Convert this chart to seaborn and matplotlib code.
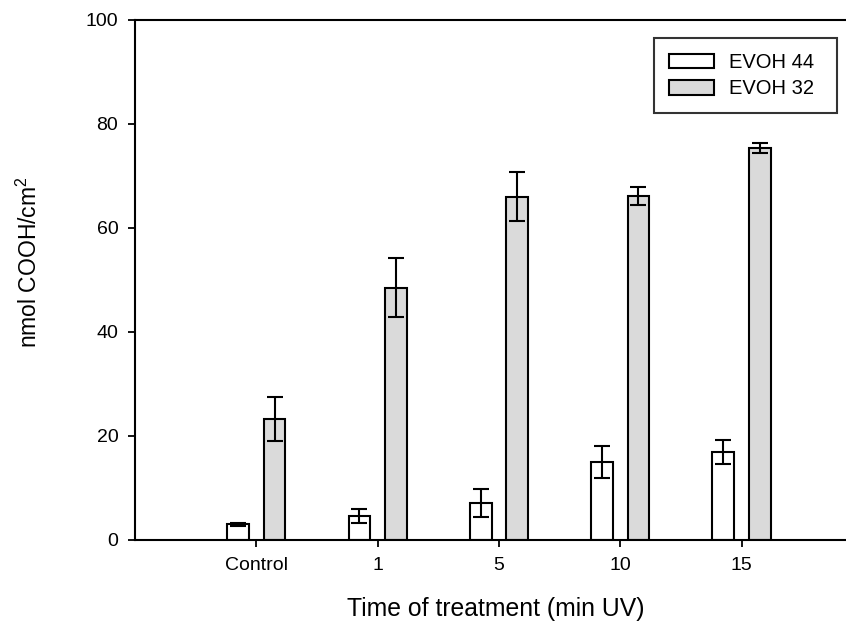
import matplotlib
matplotlib.use("Agg")
import matplotlib.pyplot as plt
from matplotlib.container import BarContainer
import seaborn as sns
import pandas as pd

categories = ["Control", "1", "5", "10", "15"]
series_names = ["EVOH 44", "EVOH 32"]
evoh44 = [3.0, 4.6, 7.1, 15.0, 16.9]
evoh44_err = [0.3, 1.35, 2.7, 3.1, 2.3]
evoh32 = [23.3, 48.5, 66.0, 66.2, 75.4]
evoh32_err = [4.2, 5.7, 4.7, 1.7, 0.9]
colors = {"EVOH 44": "#ffffff", "EVOH 32": "#dadada"}

sns.set_style("ticks")
plt.rcParams['font.family'] = ['Liberation Sans', 'DejaVu Sans']
plt.rcParams['mathtext.fontset'] = 'custom'
plt.rcParams['mathtext.rm'] = 'Liberation Sans'
plt.rcParams['mathtext.it'] = 'Liberation Sans'
plt.rcParams['text.color'] = 'black'
plt.rcParams['axes.labelcolor'] = 'black'
plt.rcParams['xtick.color'] = 'black'
plt.rcParams['ytick.color'] = 'black'

df = pd.DataFrame({
    "Time": categories * 2,
    "Series": [series_names[0]] * len(categories) + [series_names[1]] * len(categories),
    "Value": evoh44 + evoh32,
})
errs = [evoh44_err, evoh32_err]

fig = plt.figure(figsize=(8.46, 6.24), dpi=100)
axw_frac = 1 - 135/846 + 0.02
ax = fig.add_axes([135/846, 1 - 540/624, axw_frac, (540 - 20)/624])

sns.barplot(data=df, x="Time", y="Value", hue="Series", order=categories,
            hue_order=series_names, palette=colors, width=0.6, gap=0.4,
            edgecolor="black", linewidth=1.5, errorbar=None, ax=ax, legend=False)

bar_conts = [c for c in ax.containers if isinstance(c, BarContainer)]
for i, cont in enumerate(bar_conts):
    xs = [p.get_x() + p.get_width() / 2 for p in cont.patches]
    ys = [p.get_height() for p in cont.patches]
    ax.errorbar(xs, ys, yerr=errs[i], fmt='none', ecolor='black',
                elinewidth=1.5, capsize=6, capthick=1.5, zorder=5)

ax.set_xlim(-1, 5)
ax.set_ylim(0, 100)
ax.set_yticks([0, 20, 40, 60, 80, 100])

for side in ["left", "bottom", "top"]:
    ax.spines[side].set_visible(True)
    ax.spines[side].set_linewidth(1.5)
    ax.spines[side].set_color("black")
ax.spines["right"].set_visible(False)

ax.tick_params(axis='both', direction='out', length=5, width=1.3,
               labelsize=14, pad=7, colors='black', labelcolor='black')
ax.tick_params(axis='y', right=False)
ax.tick_params(axis='x', top=False)

axw = 846 * axw_frac
ax.set_xlabel("Time of treatment (min UV)", fontsize=17.8, color='black')
ax.set_ylabel(r"nmol COOH/cm$^2$", fontsize=16.5, color='black')
ax.xaxis.set_label_coords((496 - 135) / axw, (540 - 597) / 520)
ax.yaxis.set_label_coords((42 - 135) / axw, (540 - 262) / 520)

handles = [cont.patches[0] for cont in bar_conts]
x0 = (654 - 135) / axw
x1 = (837 - 135) / axw
ytop = (540 - 38) / 520
leg = ax.legend(handles, series_names, loc='upper left',
                bbox_to_anchor=(x0, ytop - 0.2, x1 - x0, 0.2), mode='expand',
                borderaxespad=0, fontsize=14.5, handlelength=2.25,
                handleheight=0.75, handletextpad=0.7, labelspacing=0.35,
                borderpad=0.75, fancybox=False, frameon=True, labelcolor='black')
leg.get_frame().set_edgecolor("black")
leg.get_frame().set_linewidth(1.5)

fig.savefig("out.png", dpi=100)
